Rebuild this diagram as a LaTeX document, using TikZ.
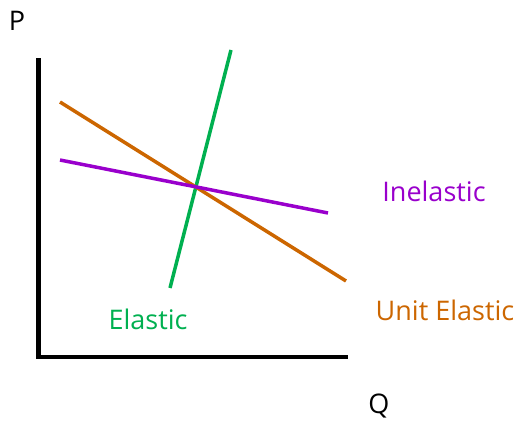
\documentclass[tikz,border=0pt]{standalone}
\usepackage{fontspec}
\setmainfont{Open Sans}

\begin{document}
\begin{tikzpicture}
  [
  x=1pt, y=-1pt,
  axis/.style={draw, line width=4.5pt, line cap=rect},
  curve/.style={draw, line width=3.5pt},
  lbl/.style={inner sep=0pt, font=\fontsize{27}{32}\selectfont},
  ]
  \useasboundingbox (0,0) rectangle (520,425);
  % axes
  \coordinate (top) at (38.5,60);
  \coordinate (origin) at (38.5,357);
  \coordinate (right) at (346,357);
  \draw[axis] (top) -- (origin) -- (right);
  \node[lbl] (p) at (17,21) {P};
  \node[lbl] (q) at (379,406) {Q};
  % demand curves
  \coordinate (e1) at (231,50);
  \coordinate (e2) at (170,288);
  \coordinate (u1) at (60,102);
  \coordinate (u2) at (346,281);
  \coordinate (i1) at (60,160);
  \coordinate (i2) at (328,213);
  \draw[curve, color={rgb,255:red,0;green,176;blue,80}] (e1) -- (e2);
  \draw[curve, color={rgb,255:red,204;green,102;blue,0}] (u1) -- (u2);
  \draw[curve, color={rgb,255:red,153;green,0;blue,204}] (i1) -- (i2);
  \node[lbl, text={rgb,255:red,153;green,0;blue,204}] (inel) at (434,191) {Inelastic};
  \node[lbl, text={rgb,255:red,204;green,102;blue,0}] (unit) at (445,310) {Unit Elastic};
  \node[lbl, text={rgb,255:red,0;green,176;blue,80}] (elas) at (148,319) {Elastic};
\end{tikzpicture}
\end{document}
